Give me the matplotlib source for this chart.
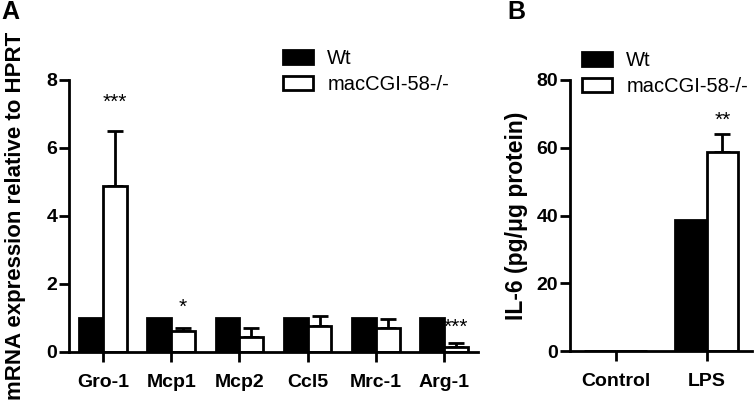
import matplotlib
matplotlib.use("Agg")
import matplotlib.pyplot as plt
import numpy as np

plt.rcParams['font.family'] = ['Liberation Sans', 'DejaVu Sans']

# Panel A data
genes = ["Gro-1", "Mcp1", "Mcp2", "Ccl5", "Mrc-1", "Arg-1"]
wt_a = [1.0, 1.0, 1.0, 1.0, 1.0, 1.0]
ko_a = [4.88, 0.63, 0.45, 0.77, 0.71, 0.16]
ko_a_err = [1.62, 0.08, 0.26, 0.29, 0.27, 0.10]
stars_a = ["***", "*", "", "", "", "***"]
stars_a_y = [7.35, 1.3, 0, 0, 0, 0.72]

# Panel B data
conds = ["Control", "LPS"]
wt_b = [0.0, 38.8]
ko_b = [0.0, 58.8]
ko_b_err = [0.0, 5.4]
stars_b = ["", "**"]
stars_b_y = [0, 68]

fig = plt.figure(figsize=(7.55, 4.03), dpi=100)

LW = 2.0
W = 0.35
TFS = 14

def style(ax):
    for s in ["top", "right"]:
        ax.spines[s].set_visible(False)
    for s in ["left", "bottom"]:
        ax.spines[s].set_linewidth(LW)
    ax.tick_params(axis="y", width=LW, length=7, labelsize=TFS, direction="out", pad=1.5)
    ax.tick_params(axis="x", width=LW, length=7, labelsize=TFS, direction="out", pad=9)
    for lab in ax.get_xticklabels() + ax.get_yticklabels():
        lab.set_fontweight("bold")

leg_kw = dict(loc="upper left", frameon=False, fontsize=14.5,
              handlelength=1.5, handleheight=0.75, handletextpad=0.7, labelspacing=0.35,
              borderaxespad=0, borderpad=0)

# Panel A
axA = fig.add_axes([69/755, 1-352/403, (478-69)/755, (352-80)/403])
x = np.arange(len(genes))
axA.bar(x - W/2, wt_a, W, color="black", edgecolor="black", linewidth=LW, label="Wt", zorder=2)
axA.bar(x + W/2, ko_a, W, color="white", edgecolor="black", linewidth=LW, label="macCGI-58-/-", zorder=2)
axA.errorbar(x + W/2, ko_a, yerr=[np.zeros(len(ko_a)), ko_a_err], fmt="none",
             ecolor="black", elinewidth=LW, capsize=6, capthick=LW, zorder=1)
for i, s in enumerate(stars_a):
    if s:
        axA.text(x[i] + W/2, stars_a_y[i], s, ha="center", va="center", fontsize=15)
axA.set_xlim(-0.5, len(genes) - 0.5)
axA.set_ylim(0, 8)
axA.set_yticks([0, 2, 4, 6, 8])
axA.set_xticks(x)
axA.set_xticklabels(genes)
axA.set_ylabel("mRNA expression relative to HPRT", fontsize=16, fontweight="bold")
axA.yaxis.set_label_coords((26-69)/409, 0.5)
style(axA)
axA.legend(bbox_to_anchor=((283-69)/409, 1 + (80-49)/272), **leg_kw)
fig.text(1/755, 1-12/403, "A", fontsize=18, fontweight="bold", va="center")

# Panel B
axB = fig.add_axes([570/755, 1-351/403, (752-570)/755, (351-80)/403])
xb = np.arange(len(conds))
axB.bar(xb - W/2, wt_b, W, color="black", edgecolor="black", linewidth=LW, label="Wt", zorder=2)
axB.bar(xb + W/2, ko_b, W, color="white", edgecolor="black", linewidth=LW, label="macCGI-58-/-", zorder=2)
axB.errorbar(xb[1:] + W/2, ko_b[1:], yerr=[[0], ko_b_err[1:]], fmt="none",
             ecolor="black", elinewidth=LW, capsize=6, capthick=LW, zorder=1)
for i, s in enumerate(stars_b):
    if s:
        axB.text(xb[i] + W/2, stars_b_y[i], s, ha="center", va="center", fontsize=15)
axB.set_xlim(-0.5, len(conds) - 0.5)
axB.set_ylim(0, 80)
axB.set_yticks([0, 20, 40, 60, 80])
axB.set_xticks(xb)
axB.set_xticklabels(conds)
axB.set_ylabel("IL-6 (pg/\u03bcg protein)", fontsize=16.5, fontweight="bold")
axB.yaxis.set_label_coords((528-570)/182, 0.5)
style(axB)
axB.legend(bbox_to_anchor=((582-570)/182, 1 + (80-51)/271), **leg_kw)
fig.text(507/755, 1-12/403, "B", fontsize=18, fontweight="bold", va="center")

fig.savefig("out.png", dpi=100)
